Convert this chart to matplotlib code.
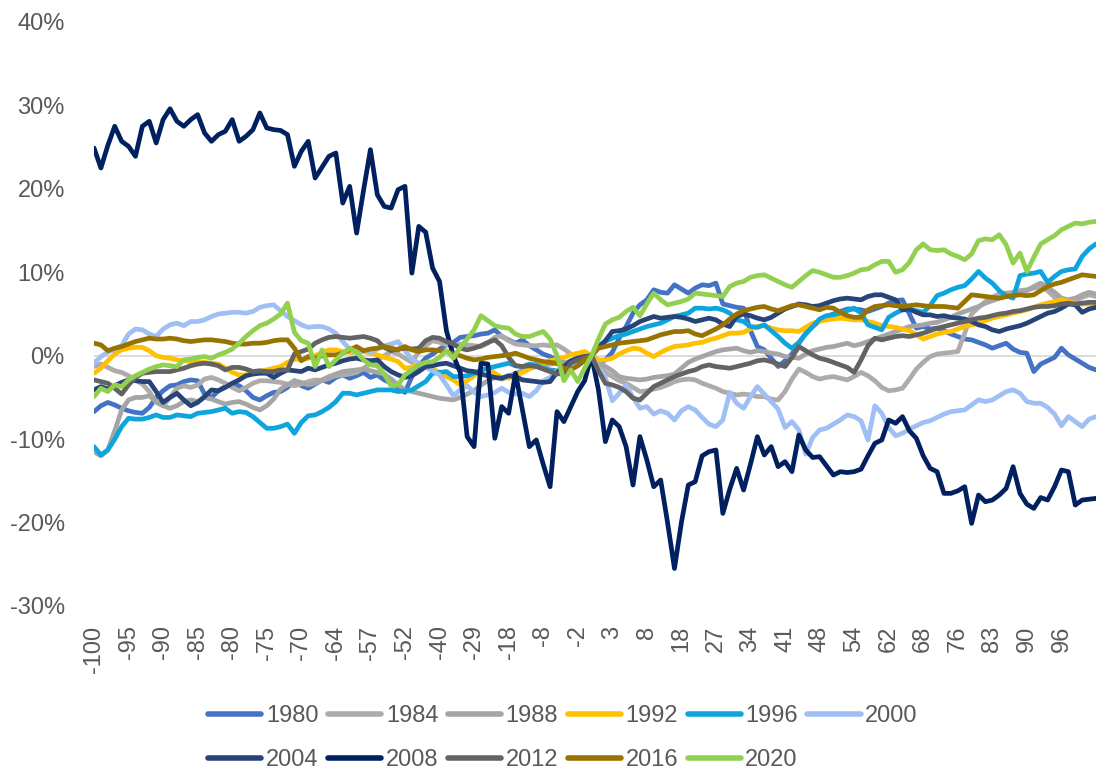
import matplotlib
matplotlib.use("Agg")
import matplotlib.pyplot as plt
from matplotlib.ticker import FuncFormatter

plt.rcParams['font.family'] = ['Liberation Sans', 'DejaVu Sans']

# category axis: one tick label every 5 trading-day rows
tick_labels = ["-100", "-95", "-90", "-85", "-80", "-75", "-70", "-64", "-57", "-52",
               "-40", "-29", "-18", "-8", "-2", "3", "8", "18", "27", "34",
               "41", "48", "54", "62", "68", "76", "83", "90", "96"]
label_step = 5

years = ["1980", "1984", "1988", "1992", "1996", "2000",
         "2004", "2008", "2012", "2016", "2020"]

# cumulative return (%) relative to election day, one value per row
y1980 = [-6.7, -6.0, -5.6, -5.9, -6.3, -6.6, -6.8, -6.9, -6.2, -5.0,
         -4.2, -3.6, -3.5, -3.1, -2.9, -3.0, -4.6, -5.0, -4.2, -3.7,
         -3.4, -3.6, -4.2, -5.0, -5.3, -4.8, -4.4, -4.3, -3.8, -3.0,
         -3.6, -3.9, -3.4, -2.9, -3.2, -2.6, -2.3, -2.7, -2.4, -2.0,
         -2.6, -2.3, -2.9, -3.3, -3.8, -4.4, -2.5, -1.2, -0.3, 0.2,
         0.8, 1.3, 1.6, 2.2, 2.3, 2.4, 2.6, 2.7, 3.1, 2.3,
         1.9, 1.5, 1.9, 1.2, 0.7, 0.2, -0.1, -0.5, -0.8, -0.9,
         -0.9, -0.5, 0.0, -0.9, -0.5, 0.4, 2.1, 3.5, 5.1, 6.1,
         6.7, 7.9, 7.6, 7.5, 8.5, 8.0, 7.5, 8.1, 8.5, 8.4,
         8.7, 6.2, 6.0, 5.8, 5.7, 3.0, 1.1, 0.7, -0.3, -1.3,
         -0.6, 0.2, 1.5, 2.7, 3.5, 4.2, 4.7, 5.0, 5.3, 5.6,
         5.6, 5.5, 5.3, 5.6, 5.9, 6.3, 6.6, 6.7, 5.0, 3.3,
         3.5, 3.2, 3.3, 3.0, 2.6, 2.3, 2.0, 1.9, 1.6, 1.3,
         0.9, 1.2, 1.5, 0.8, 0.4, 0.3, -1.9, -1.0, -0.6, -0.2,
         0.9, 0.1, -0.4, -0.9, -1.4, -1.7]

y1984 = [-1.3, -1.0, -1.4, -1.8, -2.0, -2.4, -2.9, -3.4, -4.3, -5.6,
         -6.0, -5.0, -3.9, -3.6, -3.8, -3.5, -2.8, -2.6, -2.9, -3.3,
         -3.8, -4.2, -3.8, -3.3, -3.0, -3.0, -3.1, -3.2, -3.4, -3.6,
         -3.4, -3.1, -2.9, -3.0, -2.7, -2.4, -2.3, -2.2, -2.0, -1.5,
         -1.0, -0.5, 0.0, 0.5, 0.2, -0.3, -0.8, 0.5, 1.2, 1.8,
         1.6, 1.3, 1.2, 1.4, 1.3, 1.2, 1.1, 1.5, 2.2, 2.4,
         1.8, 1.4, 1.3, 1.2, 1.2, 1.3, 1.2, 1.3, 0.8, 0.2,
         0.1, 0.0, 0.0, -1.3, -2.0, -2.5, -3.0, -3.3, -3.8, -4.3,
         -4.2, -4.0, -3.8, -3.5, -3.1, -2.9, -2.8, -2.9, -3.3, -3.6,
         -3.9, -4.3, -4.5, -4.7, -4.6, -4.7, -4.9, -4.9, -5.2, -5.3,
         -4.3, -2.8, -1.6, -2.0, -2.5, -2.8, -2.6, -2.5, -2.7, -2.9,
         -2.5, -2.0, -2.4, -3.0, -3.8, -4.2, -4.1, -3.9, -2.8, -1.6,
         -0.8, -0.1, 0.2, 0.3, 0.4, 0.5, 2.7, 5.0, 5.8, 6.5,
         7.0, 7.4, 7.5, 7.6, 7.8, 7.9, 8.1, 8.3, 7.8, 7.0,
         6.5, 6.4, 6.6, 7.0, 7.3, 7.1]

y1988 = [-11.5, -12.0, -11.3, -9.0, -6.5, -5.3, -5.0, -5.0, -4.8, -5.5,
         -6.0, -6.3, -6.0, -5.5, -5.3, -5.5, -5.0, -5.2, -5.5, -5.8,
         -5.6, -5.5, -5.8, -6.2, -6.5, -6.0, -5.2, -4.0, -3.5, -3.0,
         -3.2, -3.5, -3.3, -2.9, -2.5, -2.2, -1.9, -1.8, -1.7, -1.6,
         -1.8, -2.0, -2.2, -2.8, -3.5, -4.1, -4.3, -4.5, -4.7, -4.9,
         -5.1, -5.2, -5.3, -5.0, -4.6, -4.2, -3.5, -3.0, -2.6, -2.8,
         -2.5, -2.1, -1.8, -1.5, -1.3, -1.1, -1.0, -0.9, -0.8, -0.7,
         -0.5, -0.3, 0.0, -0.8, -1.3, -1.8, -2.5, -2.7, -2.8, -2.9,
         -2.8, -2.6, -2.5, -2.4, -2.2, -1.5, -0.8, -0.4, -0.1, 0.2,
         0.5, 0.7, 0.8, 0.9, 0.6, 0.4, 0.6, 0.5, 0.3, 0.2,
         -0.1, -0.2, -0.3, 0.2, 0.6, 0.8, 1.0, 1.1, 1.3, 1.5,
         1.2, 1.4, 1.7, 2.0, 2.3, 2.6, 2.9, 3.2, 3.5, 3.6,
         3.7, 3.9, 4.0, 4.3, 4.6, 5.0, 5.3, 5.6, 5.9, 6.3,
         6.6, 6.9, 7.1, 7.4, 7.6, 7.8, 8.3, 8.7, 8.2, 7.6,
         6.9, 6.7, 6.9, 7.3, 7.6, 7.4]

y1992 = [-2.1, -1.5, -0.6, 0.2, 0.7, 0.9, 1.0, 1.0, 0.6, 0.0,
         -0.2, -0.3, -0.5, -0.6, -0.7, -0.7, -0.8, -0.9, -1.0, -1.5,
         -2.0, -2.3, -2.3, -2.1, -1.9, -1.7, -1.5, -1.3, -0.8, -0.4,
         -0.5, -0.3, 0.0, 0.4, 0.7, 0.7, 0.5, 0.4, 0.3, 0.5,
         0.3, 0.1, -0.2, -0.4, -0.7, -1.5, -1.4, -0.9, -1.2, -1.6,
         -2.0, -2.5, -2.9, -3.5, -3.0, -2.4, -1.8, -1.5, -2.1, -2.6,
         -2.7, -2.4, -2.0, -1.6, -1.2, -0.9, -0.6, -0.4, -0.2, 0.1,
         0.3, 0.5, 0.0, -0.5, -0.5, -0.3, 0.2, 0.6, 0.9, 0.8,
         0.3, -0.1, 0.4, 0.8, 1.1, 1.2, 1.3, 1.5, 1.6, 1.9,
         2.1, 2.4, 2.7, 2.7, 2.8, 3.2, 3.5, 3.6, 3.3, 3.1,
         3.0, 3.0, 2.9, 3.4, 3.9, 4.1, 4.3, 4.4, 4.5, 4.4,
         4.3, 4.3, 4.1, 3.9, 3.6, 3.5, 3.4, 3.2, 3.0, 2.5,
         2.0, 2.3, 2.6, 2.8, 2.9, 3.2, 3.5, 3.7, 3.9, 4.2,
         4.5, 4.7, 4.9, 5.1, 5.3, 5.5, 5.8, 6.1, 6.3, 6.5,
         6.7, 6.5, 6.3, 6.2, 6.2, 6.1]

y1996 = [-10.9, -11.9, -11.3, -10.0, -8.5, -7.5, -7.6, -7.6, -7.4, -7.1,
         -7.4, -7.4, -7.1, -7.2, -7.3, -6.9, -6.8, -6.7, -6.5, -6.3,
         -6.9, -6.7, -6.8, -7.3, -8.0, -8.7, -8.7, -8.5, -8.2, -9.3,
         -8.0, -7.2, -7.1, -6.7, -6.2, -5.5, -4.5, -4.5, -4.7, -4.5,
         -4.3, -4.1, -4.1, -4.1, -4.3, -4.2, -4.1, -3.6, -3.1, -2.1,
         -2.0, -1.9, -2.5, -2.5, -2.4, -2.1, -1.7, -1.5, -1.3, -1.1,
         -0.9, -1.2, -1.3, -1.0, -1.1, -1.5, -1.7, -1.8, -1.6, -1.5,
         -1.2, -0.6, 0.0, 1.2, 1.7, 2.1, 2.4, 2.6, 2.9, 3.2,
         3.5, 3.7, 3.9, 4.3, 4.7, 4.9, 5.1, 5.7, 5.7, 5.6,
         5.7, 5.5, 5.1, 4.3, 4.1, 3.5, 3.4, 3.7, 3.0, 2.3,
         1.5, 0.9, 1.6, 2.6, 3.5, 4.4, 4.8, 4.9, 5.1, 5.4,
         5.7, 5.1, 3.7, 3.4, 3.1, 4.6, 5.1, 5.5, 5.5, 5.4,
         5.2, 6.0, 7.2, 7.5, 7.9, 8.2, 8.4, 9.2, 10.1, 9.3,
         8.7, 7.8, 7.2, 6.9, 9.6, 9.8, 9.9, 10.1, 8.8, 9.5,
         10.1, 10.3, 10.4, 11.9, 12.8, 13.4]

y2000 = [-0.9, -0.1, 0.4, 0.8, 1.2, 2.6, 3.2, 3.1, 2.6, 2.3,
         3.2, 3.7, 3.9, 3.6, 4.1, 4.1, 4.3, 4.7, 5.0, 5.1,
         5.2, 5.2, 5.1, 5.3, 5.8, 6.0, 6.1, 5.4, 4.7, 4.2,
         3.7, 3.4, 3.5, 3.5, 3.2, 2.7, 1.7, 0.8, 0.3, 0.6,
         0.4, 0.8, 1.2, 1.4, 1.7, 0.6, -0.4, -0.9, -1.4, -1.8,
         -2.3, -3.5, -4.8, -4.1, -3.6, -4.4, -4.9, -4.7, -4.4, -3.9,
         -4.4, -4.6, -4.5, -4.9, -4.2, -3.0, -2.6, -1.8, -1.5, -1.2,
         -0.8, -0.4, 0.0, -1.5, -2.6, -5.4, -4.5, -3.5, -5.0, -6.3,
         -6.1, -7.0, -6.6, -6.9, -7.7, -6.6, -6.1, -6.5, -7.4, -8.2,
         -8.5, -7.7, -4.4, -5.7, -6.3, -4.9, -3.7, -4.6, -5.5, -6.4,
         -8.6, -7.9, -8.9, -11.8, -9.8, -8.9, -8.7, -8.2, -7.7, -7.1,
         -7.3, -7.8, -10.1, -6.0, -6.9, -8.6, -9.6, -9.3, -8.8, -8.4,
         -8.0, -7.8, -7.4, -7.0, -6.7, -6.6, -6.5, -5.9, -5.3, -5.5,
         -5.3, -4.8, -4.3, -4.1, -4.5, -5.5, -5.7, -5.7, -6.2, -7.0,
         -8.4, -7.3, -7.9, -8.5, -7.6, -7.3]

y2004 = [-4.1, -3.7, -4.0, -3.6, -3.2, -2.9, -3.0, -3.1, -3.1, -4.3,
         -5.6, -5.0, -4.5, -5.3, -6.0, -5.6, -4.9, -4.1, -4.2, -3.8,
         -3.3, -2.9, -2.4, -2.2, -2.1, -2.1, -2.6, -2.1, -1.7, -1.8,
         -1.9, -1.5, -1.7, -1.4, -1.1, -0.9, -0.6, -0.4, -0.3, -0.5,
         -0.6, -0.5, -1.3, -1.9, -2.3, -2.6, -2.4, -1.9, -1.3, -1.2,
         -1.0, -0.9, -1.2, -1.5, -1.8, -1.9, -2.2, -2.4, -2.6, -2.7,
         -2.4, -2.5, -2.9, -3.0, -3.1, -3.2, -3.1, -2.0, -1.3, -0.6,
         -0.3, -0.1, 0.0, 1.0, 1.8, 2.9, 3.0, 3.2, 3.6, 4.1,
         4.4, 4.7, 4.5, 4.6, 4.7, 4.6, 4.4, 4.1, 4.3, 4.5,
         4.3, 3.8, 3.5, 4.7, 5.0, 4.8, 4.5, 4.3, 4.6, 5.1,
         5.6, 5.9, 6.2, 6.1, 5.9, 6.0, 6.3, 6.6, 6.8, 6.9,
         6.8, 6.7, 7.1, 7.3, 7.3, 7.0, 6.7, 5.5, 5.6, 5.2,
         4.9, 4.9, 4.7, 4.8, 4.6, 4.5, 4.4, 4.1, 3.7, 3.5,
         3.1, 2.9, 3.2, 3.4, 3.6, 3.9, 4.3, 4.7, 5.1, 5.3,
         5.7, 6.2, 6.1, 5.2, 5.6, 5.8]

y2008 = [24.9, 22.5, 25.2, 27.5, 25.7, 25.1, 23.9, 27.5, 28.1, 25.5,
         28.3, 29.6, 28.1, 27.5, 28.3, 28.9, 26.7, 25.7, 26.5, 26.9,
         28.3, 25.7, 26.3, 27.1, 29.1, 27.3, 27.1, 27.0, 26.5, 22.7,
         24.5, 25.7, 21.3, 22.6, 23.9, 24.3, 18.3, 20.3, 14.7, 19.8,
         24.7, 19.3, 17.9, 17.7, 19.9, 20.3, 9.9, 15.5, 14.8, 10.5,
         8.9, 3.0, 0.0, -2.0, -9.7, -10.9, -0.9, -1.0, -9.9, -6.1,
         -6.9, -2.1, -6.5, -10.9, -10.1, -13.0, -15.7, -6.7, -7.9, -6.1,
         -4.3, -3.0, 0.0, -4.1, -10.3, -7.7, -8.5, -10.9, -15.5, -9.7,
         -12.5, -15.7, -14.9, -20.0, -25.5, -20.0, -15.5, -15.1, -12.0, -11.5,
         -11.3, -18.9, -16.0, -13.5, -16.1, -13.0, -9.7, -11.9, -10.9, -13.3,
         -12.7, -13.9, -9.5, -11.3, -12.2, -12.1, -13.2, -14.3, -13.9, -14.0,
         -13.9, -13.6, -12.0, -10.5, -10.1, -7.7, -8.1, -7.3, -9.0, -9.9,
         -12.0, -13.5, -13.9, -16.5, -16.5, -16.2, -15.7, -20.1, -16.7, -17.5,
         -17.3, -16.7, -15.9, -13.3, -16.5, -17.8, -18.3, -17.0, -17.3, -15.7,
         -13.7, -13.9, -17.9, -17.3, -17.2, -17.1]

y2012 = [-2.9, -3.1, -3.3, -3.9, -4.6, -3.5, -2.6, -2.1, -2.0, -1.9,
         -1.9, -1.9, -1.7, -1.5, -1.2, -1.0, -0.9, -1.0, -1.2, -1.7,
         -1.4, -1.4, -1.6, -1.9, -1.8, -1.9, -1.9, -1.7, -1.7, 0.2,
         0.5, 0.8, 1.5, 1.9, 2.2, 2.3, 2.2, 2.1, 2.2, 2.3,
         2.1, 1.8, 1.0, 0.6, 0.8, 0.9, 0.8, 0.9, 1.8, 2.2,
         2.1, 1.7, 1.4, 0.9, 0.7, 0.9, 1.2, 1.6, 1.9, 1.2,
         -0.2, -1.2, -1.3, -1.2, -1.3, -1.6, -1.9, -2.2, -2.1, -0.9,
         -0.5, -0.2, 0.0, -1.8, -3.3, -3.5, -3.8, -4.3, -5.1, -5.3,
         -4.5, -3.7, -3.3, -2.9, -2.5, -2.2, -1.9, -1.7, -1.3, -1.1,
         -1.3, -1.4, -1.5, -1.3, -1.1, -0.9, -0.6, -0.5, -0.7, -1.0,
         -1.3, -0.2, 1.1, 0.6, 0.1, -0.3, -0.5, -0.8, -1.1, -1.4,
         -2.0, -0.5, 1.2, 2.1, 1.9, 2.1, 2.3, 2.4, 2.3, 2.5,
         2.7, 3.0, 3.3, 3.5, 3.7, 3.9, 4.1, 4.3, 4.5, 4.6,
         4.8, 5.0, 5.1, 5.3, 5.4, 5.6, 5.8, 5.9, 5.9, 6.0,
         6.2, 6.3, 6.2, 6.3, 6.4, 6.4]

y2016 = [1.5, 1.3, 0.6, 0.9, 1.1, 1.4, 1.7, 1.9, 2.1, 2.0,
         2.0, 2.1, 2.0, 1.8, 1.7, 1.8, 1.9, 1.9, 1.8, 1.7,
         1.5, 1.4, 1.4, 1.5, 1.5, 1.6, 1.8, 1.9, 1.9, 0.9,
         -0.6, -0.1, -0.3, 0.0, 0.1, 0.1, 0.3, 0.7, 1.1, 0.6,
         0.8, 0.9, 1.1, 0.9, 0.7, 1.1, 0.7, 0.5, 0.7, 0.7,
         0.6, 0.5, 0.2, 0.0, -0.3, -0.5, -0.4, -0.2, -0.1, 0.0,
         0.1, 0.3, 0.0, -0.3, -0.5, -0.7, -0.8, -0.9, -1.5, -1.7,
         -1.2, -0.5, 0.0, 0.9, 1.1, 1.3, 1.5, 1.6, 1.7, 1.8,
         1.9, 2.2, 2.5, 2.7, 2.9, 2.9, 3.0, 2.6, 2.4, 2.8,
         3.2, 3.7, 4.4, 5.0, 5.4, 5.6, 5.8, 5.9, 5.6, 5.4,
         5.7, 6.0, 6.1, 5.9, 5.7, 5.5, 5.8, 5.7, 5.2, 4.8,
         4.6, 4.6, 5.5, 5.9, 6.0, 6.1, 6.0, 5.9, 6.0, 6.1,
         6.0, 5.9, 5.9, 5.9, 5.8, 5.7, 6.5, 7.3, 7.2, 7.1,
         7.0, 6.9, 7.1, 7.2, 7.3, 7.2, 7.3, 7.8, 8.3, 8.6,
         8.8, 9.1, 9.4, 9.7, 9.6, 9.5]

y2020 = [-4.9, -3.9, -4.3, -3.5, -3.7, -2.9, -2.4, -2.0, -1.6, -1.3,
         -1.1, -1.2, -1.3, -0.5, -0.4, -0.2, -0.1, -0.3, 0.1, 0.4,
         0.8, 1.5, 2.3, 3.0, 3.6, 3.9, 4.4, 5.0, 6.3, 2.8,
         1.8, 1.5, -1.3, 0.7, -1.3, -0.5, 0.3, 0.9, 0.4, -0.5,
         -1.1, -1.2, -2.2, -3.6, -3.5, -2.3, -1.7, -1.1, -0.8, -0.7,
         -0.2, 0.6, -0.3, 1.0, 2.0, 3.1, 4.8, 4.2, 3.6, 3.4,
         3.3, 2.6, 2.3, 2.3, 2.6, 2.9, 2.0, 0.0, -3.0, -1.7,
         -3.1, -1.5, 0.0, 2.0, 3.8, 4.3, 4.6, 5.3, 5.8, 4.8,
         6.2, 7.5, 6.7, 6.1, 6.3, 6.5, 6.8, 7.5, 7.4, 7.3,
         7.2, 7.1, 8.3, 8.7, 8.9, 9.4, 9.6, 9.7, 9.3, 8.9,
         8.5, 8.2, 8.9, 9.6, 10.2, 10.0, 9.7, 9.4, 9.4, 9.6,
         9.9, 10.3, 10.4, 10.9, 11.3, 11.3, 10.0, 10.3, 11.2, 12.7,
         13.4, 12.7, 12.6, 12.7, 12.2, 11.9, 11.5, 12.2, 13.8, 14.0,
         13.9, 14.5, 13.3, 11.1, 12.3, 10.1, 11.8, 13.4, 13.9, 14.4,
         15.1, 15.5, 15.9, 15.8, 16.0, 16.1]

series = [y1980, y1984, y1988, y1992, y1996, y2000,
          y2004, y2008, y2012, y2016, y2020]
colors = ["#4472C4", "#AFABAB", "#A5A5A5", "#FFC000", "#0EA5DE", "#9FBFF5",
          "#264478", "#002060", "#636363", "#997300", "#92D050"]

n_rows = len(y2008)
for s in series:
    assert len(s) == n_rows, len(s)

text_color = "#595959"

fig = plt.figure(figsize=(10.96, 7.71), dpi=100)
ax = fig.add_axes([94 / 1096, 165 / 771, 1002 / 1096, 584 / 771])

x = list(range(n_rows))
ax.axhline(0, color="#D9D9D9", lw=1.3, zorder=0)

handles = []
for name, vals, col in zip(years, series, colors):
    (ln,) = ax.plot(x, vals, color=col, lw=3.4, label=name,
                    solid_joinstyle="round", solid_capstyle="round", clip_on=True)
    handles.append(ln)

ax.set_xlim(0, n_rows - 1)
ax.set_ylim(-30, 40)
ax.set_yticks(range(-30, 41, 10))
ax.yaxis.set_major_formatter(FuncFormatter(lambda v, p: f"{v:.0f}%"))
ax.set_xticks(range(0, label_step * len(tick_labels), label_step))
ax.set_xticklabels(tick_labels, rotation=90)

ax.tick_params(axis="y", length=0, pad=21, labelsize=17, labelcolor=text_color)
ax.tick_params(axis="x", length=0, pad=14, labelsize=17, labelcolor=text_color)
for sp in ax.spines.values():
    sp.set_visible(False)

# row-major legend order for a 6-column, 2-row layout
order = [0, 6, 1, 7, 2, 8, 3, 9, 4, 10, 5]
leg = fig.legend([handles[i] for i in order], [years[i] for i in order],
                 ncol=6, loc="center", bbox_to_anchor=(563 / 1096, 1 - 738 / 771),
                 frameon=False, fontsize=17, handlelength=2.25, handletextpad=0.2,
                 columnspacing=0.4, labelspacing=0.95, borderaxespad=0)
for t in leg.get_texts():
    t.set_color(text_color)
for lh in leg.get_lines():
    lh.set_linewidth(4.0)

fig.savefig("out.png", dpi=100)
